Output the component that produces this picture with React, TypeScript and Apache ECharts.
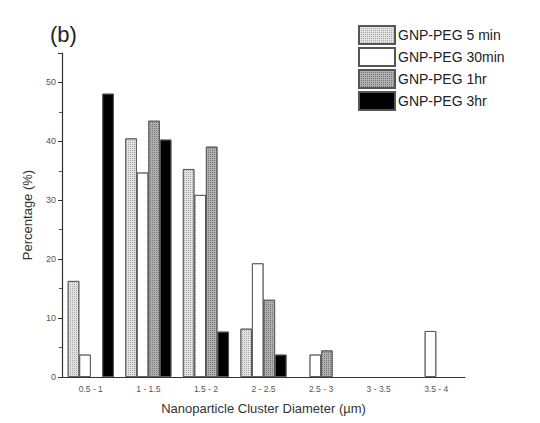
import React, { useEffect, useRef } from "react";
import * as echarts from "echarts";

const categories = ["0.5 - 1", "1 - 1.5", "1.5 - 2", "2 - 2.5", "2.5 - 3", "3 - 3.5", "3.5 - 4"];
const seriesNames = ["GNP-PEG 5 min", "GNP-PEG 30min", "GNP-PEG 1hr", "GNP-PEG 3hr"];
const peg5min = [16.3, 40.5, 35.3, 8.2, 0, 0, 0];
const peg30min = [3.8, 34.7, 30.9, 19.3, 3.8, 0, 7.8];
const peg1hr = [0, 43.5, 39.1, 13.1, 4.5, 0, 0];
const peg3hr = [48.1, 40.3, 7.7, 3.8, 0, 0, 0];

const FONT = "Liberation Sans";

export default function App() {
  const ref = useRef<HTMLDivElement>(null);
  useEffect(() => {
    if (!ref.current) return;
    const chart = echarts.init(ref.current, undefined, { renderer: "svg" });
    const border = { borderColor: "#555", borderWidth: 0.8 };
    const dotDecal = (c: string) => ({
      symbol: "rect",
      symbolSize: 1,
      color: c,
      dashArrayX: [1, 1],
      dashArrayY: [1, 1],
      rotation: 0,
    });
    const noDecal = { symbol: "none" };
    const mk = (name: string, data: number[], itemStyle: any) => ({
      name,
      type: "bar",
      data: data.map((v) => (v === 0 ? null : v)),
      barGap: "0%",
      barCategoryGap: "20%",
      itemStyle: { ...border, ...itemStyle },
    });
    chart.setOption({
      animation: false,
      backgroundColor: "#fff",
      aria: { enabled: true, decal: { show: true } },
      textStyle: { fontFamily: FONT },
      title: {
        text: "(b)",
        left: 45,
        top: 18,
        textStyle: { fontFamily: FONT, fontSize: 22, fontWeight: "normal", color: "#222" },
      },
      legend: {
        orient: "vertical",
        left: 353,
        top: 20,
        itemWidth: 36,
        itemHeight: 18,
        itemGap: 2,
        icon: "rect",
        textStyle: { fontFamily: FONT, fontSize: 14, color: "#222", padding: [0, 0, 0, -2] },
        data: seriesNames,
      },
      grid: { left: 62, right: 75, top: 53, bottom: 46 },
      xAxis: {
        type: "category",
        data: categories,
        axisLine: { lineStyle: { color: "#333", width: 1.2 } },
        axisTick: { show: false },
        axisLabel: { fontFamily: FONT, fontSize: 8.5, color: "#555", margin: 7 },
        name: "Nanoparticle Cluster Diameter (\u00b5m)",
        nameLocation: "middle",
        nameGap: 25,
        nameTextStyle: { fontFamily: FONT, fontSize: 13, color: "#333" },
      },
      yAxis: {
        type: "value",
        min: 0,
        max: 55,
        interval: 10,
        axisLine: { show: true, lineStyle: { color: "#333", width: 1.2 } },
        axisTick: { show: true, inside: false, length: 4, lineStyle: { color: "#333" } },
        minorTick: { show: true, splitNumber: 2, length: 3, lineStyle: { color: "#555" } },
        splitLine: { show: false },
        axisLabel: {
          fontFamily: FONT,
          fontSize: 9,
          color: "#555",
          margin: 6,
          formatter: (v: number) => (v % 10 === 0 ? String(v) : ""),
        },
        name: "Percentage (%)",
        nameLocation: "middle",
        nameGap: 28,
        nameTextStyle: { fontFamily: FONT, fontSize: 13, color: "#333" },
      },
      series: [
        mk(seriesNames[0], peg5min, { color: "#e2e2e2", decal: dotDecal("rgba(130,130,130,0.6)") }),
        mk(seriesNames[1], peg30min, { color: "#ffffff", decal: noDecal }),
        mk(seriesNames[2], peg1hr, { color: "#b0b0b0", decal: dotDecal("rgba(80,80,80,0.6)") }),
        mk(seriesNames[3], peg3hr, { color: "#000000", decal: noDecal }),
      ],
    });
    return () => chart.dispose();
  }, []);
  return <div ref={ref} style={{ width: 540, height: 423, position: "absolute", left: 0, top: 0 }} />;
}
